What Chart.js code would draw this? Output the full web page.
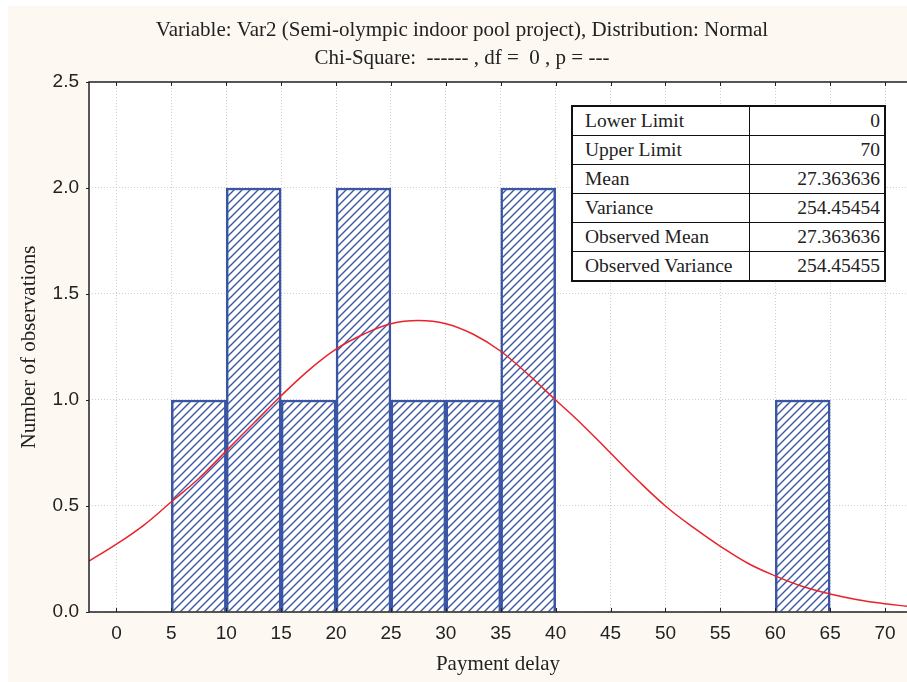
<!DOCTYPE html>
<html>
<head>
<meta charset="utf-8">
<script src="https://cdn.jsdelivr.net/npm/chart.js@4.4.1/dist/chart.umd.min.js"></script>
<style>
  body { margin: 0; background: #fff; }
  #wrap { position: relative; width: 907px; height: 682px; }
  #bg { position: absolute; left: 8px; top: 6px; right: 0; bottom: 0; background: #fdf9f2; }
  canvas { position: absolute; left: 0; top: 0; }
  #stats {
    position: absolute; left: 571px; top: 105px; width: 315px;
    border-collapse: collapse; background: #fff;
    font-family: "Liberation Serif", "Times New Roman", serif; font-size: 19.5px; color: #222;
    border: 2px solid #111;
  }
  #stats td { border: 1px solid #111; height: 28px; padding: 0 4px 0 12px; line-height: 20px; }
  #stats td.v { text-align: right; width: 118px; }
</style>
</head>
<body>
<div id="wrap">
  <div id="bg"></div>
  <canvas id="hist" width="907" height="682"></canvas>
  <table id="stats"></table>
</div>
<script>
// histogram bins (centres) and counts
var binCentres = [7.5, 12.5, 17.5, 22.5, 27.5, 32.5, 37.5, 62.5];
var binCounts  = [1, 2, 1, 2, 1, 1, 2, 1];

// fitted normal curve
var curveX = [-2.5, 0, 2.5, 5, 7.5, 10, 12.5, 15, 17.5, 20, 22.5, 25, 27.5, 30, 32.5, 35, 37.5, 40, 42.5, 45, 47.5, 50, 52.5, 55, 57.5, 60, 62.5, 65, 67.5, 70, 72];
var curveY = [0.24, 0.32, 0.41, 0.52, 0.63, 0.76, 0.89, 1.02, 1.14, 1.24, 1.31, 1.36, 1.375, 1.36, 1.31, 1.23, 1.12, 1.0, 0.88, 0.75, 0.62, 0.50, 0.40, 0.31, 0.23, 0.17, 0.12, 0.085, 0.058, 0.039, 0.027];

var statLabels = ["Lower Limit", "Upper Limit", "Mean", "Variance", "Observed Mean", "Observed Variance"];
var statValues = ["0", "70", "27.363636", "254.45454", "27.363636", "254.45455"];

var tbl = document.getElementById('stats');
statLabels.forEach(function (l, i) {
  var tr = document.createElement('tr');
  tr.innerHTML = '<td>' + l + '</td><td class="v">' + statValues[i] + '</td>';
  tbl.appendChild(tr);
});

// hatch fill for the bars
function hatch() {
  var c = document.createElement('canvas');
  c.width = 8; c.height = 8;
  var g = c.getContext('2d');
  g.fillStyle = '#fff';
  g.fillRect(0, 0, 8, 8);
  g.strokeStyle = '#3a55a4';
  g.lineWidth = 1.4;
  g.beginPath();
  g.moveTo(-2, 10); g.lineTo(10, -2);
  g.moveTo(-2, 2); g.lineTo(2, -2);
  g.moveTo(6, 10); g.lineTo(10, 6);
  g.stroke();
  return g.createPattern(c, 'repeat');
}

var serif = "'Liberation Serif', 'Times New Roman', serif";
var sans = "'Liberation Sans', Arial, sans-serif";

var frame = {
  id: 'frame',
  beforeDraw: function (chart) {
    var a = chart.chartArea, ctx = chart.ctx;
    ctx.save();
    ctx.fillStyle = '#fff';
    ctx.fillRect(a.left, a.top, a.right - a.left, a.bottom - a.top);
    ctx.restore();
  },
  afterDraw: function (chart) {
    var a = chart.chartArea, ctx = chart.ctx;
    var xs = chart.scales.x, ys = chart.scales.y;
    ctx.save();
    ctx.strokeStyle = '#222';
    ctx.lineWidth = 1.5;
    ctx.beginPath();
    ctx.moveTo(a.right, a.top); ctx.lineTo(a.left, a.top);
    ctx.lineTo(a.left, a.bottom); ctx.lineTo(a.right, a.bottom);
    ctx.stroke();
    ctx.lineWidth = 1;
    ctx.beginPath();
    xs.ticks.forEach(function (t) {
      var px = Math.round(xs.getPixelForValue(t.value)) + 0.5;
      ctx.moveTo(px, a.top); ctx.lineTo(px, a.top + 4);
      ctx.moveTo(px, a.bottom); ctx.lineTo(px, a.bottom - 4);
    });
    ys.ticks.forEach(function (t) {
      var py = Math.round(ys.getPixelForValue(t.value)) + 0.5;
      ctx.moveTo(a.left, py); ctx.lineTo(a.left - 3, py);
    });
    ctx.stroke();
    ctx.restore();
  }
};

new Chart(document.getElementById('hist'), {
  type: 'bar',
  data: {
    datasets: [{
      type: 'scatter',
      data: curveX.map(function (x, i) { return { x: x, y: curveY[i] }; }),
      showLine: true,
      borderColor: '#e8232b',
      borderWidth: 1.5,
      pointRadius: 0,
      tension: 0.4,
      order: 0
    }, {
      data: binCentres.map(function (x, i) { return { x: x, y: binCounts[i] }; }),
      backgroundColor: hatch(),
      borderColor: '#3a55a4',
      borderWidth: 2.5,
      barPercentage: 1,
      categoryPercentage: 1,
      order: 1
    }]
  },
  options: {
    responsive: false,
    animation: false,
    layout: { padding: { left: 17, right: 0, top: 0, bottom: 0 } },
    plugins: {
      legend: { display: false },
      tooltip: { enabled: false },
      title: {
        display: true,
        text: ['Variable: Var2 (Semi-olympic indoor pool project), Distribution: Normal',
               'Chi-Square:  ------ , df =  0 , p = ---'],
        color: '#222',
        font: { family: serif, size: 21, weight: 'normal', lineHeight: 1.333 },
        padding: { top: 16, bottom: 10 }
      }
    },
    scales: {
      x: {
        type: 'linear',
        offset: false,
        min: -2.5,
        max: 72,
        afterFit: function (s) { s.height = 70; },
        ticks: { stepSize: 5, includeBounds: false, padding: 10, color: '#222', font: { family: sans, size: 19 } },
        grid: { color: '#cfcfcf', drawTicks: false, offset: false },
        border: { display: false, dash: [1, 2] },
        title: { display: true, text: 'Payment delay', color: '#222', font: { family: serif, size: 21 }, padding: { top: 5, bottom: 5 } }
      },
      y: {
        min: 0,
        max: 2.5,
        afterFit: function (s) { s.width = 72; },
        ticks: { stepSize: 0.5, padding: 10, color: '#222', font: { family: sans, size: 19 },
                 callback: function (v) { return v.toFixed(1); } },
        grid: { color: '#cfcfcf', drawTicks: false },
        border: { display: false, dash: [1, 2] },
        title: { display: true, text: 'Number of observations', color: '#222', font: { family: serif, size: 21 }, padding: 0 }
      }
    }
  },
  plugins: [frame]
});
</script>
</body>
</html>
